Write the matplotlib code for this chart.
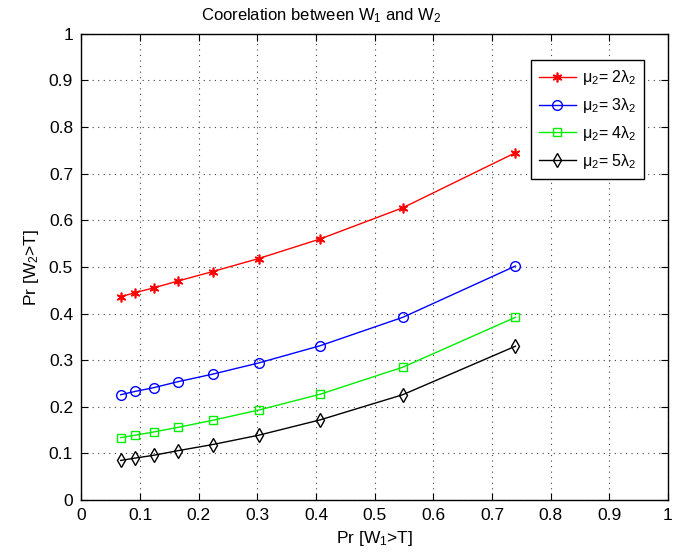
import numpy as np
import matplotlib
matplotlib.use('Agg')
import matplotlib.pyplot as plt

plt.rcParams['font.family'] = ['Liberation Sans', 'DejaVu Sans']
plt.rcParams['mathtext.fontset'] = 'custom'
plt.rcParams['mathtext.rm'] = 'Liberation Sans'
plt.rcParams['mathtext.it'] = 'Liberation Sans'

# Pr[W1>T]
x = [0.067, 0.0915, 0.123, 0.165, 0.2235, 0.302, 0.407, 0.548, 0.740]
# Pr[W2>T] per mu2 setting
y_2 = [0.436, 0.445, 0.455, 0.470, 0.490, 0.518, 0.560, 0.627, 0.745]
y_3 = [0.226, 0.233, 0.241, 0.254, 0.270, 0.294, 0.331, 0.392, 0.502]
y_4 = [0.134, 0.139, 0.146, 0.156, 0.171, 0.193, 0.227, 0.285, 0.392]
y_5 = [0.085, 0.090, 0.096, 0.106, 0.119, 0.139, 0.172, 0.226, 0.330]
labels = [r'$\mathregular{\mu_2}$= 2$\mathregular{\lambda_2}$',
          r'$\mathregular{\mu_2}$= 3$\mathregular{\lambda_2}$',
          r'$\mathregular{\mu_2}$= 4$\mathregular{\lambda_2}$',
          r'$\mathregular{\mu_2}$= 5$\mathregular{\lambda_2}$']

fig = plt.figure(figsize=(6.9, 5.55), dpi=100)
ax = fig.add_axes([0.118, 0.099, 0.850, 0.840])

ax.plot(x, y_2, '-', color='#ff0000', marker=(6, 2, 0), ms=7, mew=1.2, lw=1, label=labels[0])
ax.plot(x, y_3, '-', color='#0000ff', marker='o', ms=7, mfc='none', mew=1, lw=1, label=labels[1])
ax.plot(x, y_4, '-', color='#00ee00', marker='s', ms=5.5, mfc='none', mew=1, lw=1, label=labels[2])
ax.plot(x, y_5, '-', color='black', marker='d', ms=7, mfc='none', mew=1, lw=1, label=labels[3])

ax.set_xlim(0, 1)
ax.set_ylim(0, 1)
ticks = np.arange(0, 1.01, 0.1)
ax.set_xticks(ticks)
ax.set_yticks(ticks)
ax.set_xticklabels(['0', '0.1', '0.2', '0.3', '0.4', '0.5', '0.6', '0.7', '0.8', '0.9', '1'])
ax.set_yticklabels(['0', '0.1', '0.2', '0.3', '0.4', '0.5', '0.6', '0.7', '0.8', '0.9', '1'])
ax.tick_params(direction='in', length=5, top=True, right=True, labelsize=12.5, pad=6)
ax.grid(True, linestyle=(0, (1, 4)), color='#444444', lw=0.8)
for s in ax.spines.values():
    s.set_linewidth(1)

ax.set_xlabel(r'Pr [W$\mathregular{_1}$>T]', fontsize=12.5, labelpad=4)
ax.set_ylabel(r'Pr [W$\mathregular{_2}$>T]', fontsize=12.5, labelpad=6)
fig.text(0.466, 0.972, r'Coorelation between W$\mathregular{_1}$ and W$\mathregular{_2}$',
         fontsize=12, ha='center', va='center')

leg = ax.legend(loc='upper right', bbox_to_anchor=(0.96, 0.943), fontsize=11.5, fancybox=False,
                edgecolor='black', framealpha=1, handlelength=2.3, handletextpad=0.4,
                labelspacing=0.55, borderpad=0.5, borderaxespad=0)
leg.get_frame().set_linewidth(1)

fig.savefig('out.png', dpi=100)
